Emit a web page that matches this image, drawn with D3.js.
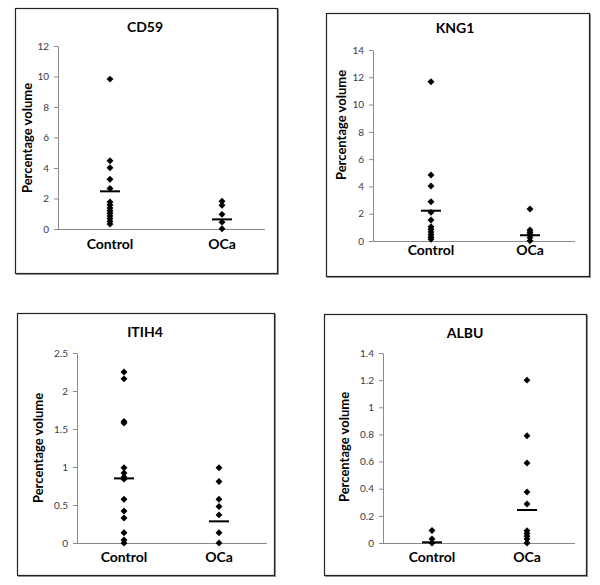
<!DOCTYPE html>
<html><head><meta charset="utf-8">
<script src="https://cdn.jsdelivr.net/npm/d3@7"></script>
<style>body{margin:0;background:#fff}svg{display:block}</style>
</head><body>
<svg id="chart" width="600" height="585"></svg>
<script>
const proteins = ["CD59", "KNG1", "ITIH4", "ALBU"];
const categories = ["Control", "OCa"];
const yMaxima = [12, 14, 2.5, 1.4];
const tickSteps = [2, 2, 0.5, 0.2];
const yAxisTitle = "Percentage volume";

const cd59Control = [9.83, 4.47, 4.02, 3.26, 2.65, 1.77, 1.57, 1.38, 1.2, 1.03, 0.85, 0.68, 0.5, 0.33];
const cd59OCa = [1.82, 1.55, 0.96, 0.45, 0.02];
const kng1Control = [11.67, 4.84, 4.03, 2.88, 2.1, 1.54, 1.05, 0.86, 0.66, 0.46, 0.27, 0.12];
const kng1OCa = [2.35, 0.8, 0.65, 0.5, 0.25, 0.02];
const itih4Control = [2.25, 2.16, 1.6, 1.58, 0.99, 0.92, 0.87, 0.84, 0.575, 0.42, 0.33, 0.136, 0.04, 0.0];
const itih4OCa = [0.99, 0.81, 0.575, 0.48, 0.37, 0.136, 0.0];
const albuControl = [0.092, 0.03, 0.0];
const albuOCa = [1.2, 0.79, 0.59, 0.376, 0.287, 0.09, 0.07, 0.05, 0.03, 0.0];

const controlMeans = [2.47, 2.22, 0.85, 0.005];
const ocaMeans = [0.63, 0.42, 0.285, 0.243];

const seriesByPanel = [
  [cd59Control, cd59OCa],
  [kng1Control, kng1OCa],
  [itih4Control, itih4OCa],
  [albuControl, albuOCa]
];

// layout (pixel geometry of each panel)
const layout = [
  {frame:[15,8,277,273], axisX:58, y0:229, yTop:46, xEnd:265, cats:[110,222], titleY:32, labelY:249, ylabX:32, ylabY:138, titleX:145},
  {frame:[326,13,589,276], axisX:373, y0:241, yTop:50, xEnd:575, cats:[431,530], titleY:33, labelY:255, ylabX:346, ylabY:125, titleX:455},
  {frame:[17,313,274,575], axisX:77, y0:543, yTop:353, xEnd:267, cats:[124,219], titleY:337, labelY:562, ylabX:43, ylabY:448, titleX:145},
  {frame:[324,314,586,575], axisX:383, y0:543, yTop:353, xEnd:575, cats:[432,527], titleY:338, labelY:562, ylabX:349, ylabY:447, titleX:465}
];

const svg = d3.select("#chart");
const font = "Lato, 'Open Sans', sans-serif";
const diamond = d3.symbol().type(d3.symbolSquare).size(24);

proteins.forEach((name, i) => {
  const L = layout[i];
  const g = svg.append("g");
  const [fx0, fy0, fx1, fy1] = L.frame;
  g.append("rect").attr("x", fx0 + 1.5).attr("y", fy0 + 1.5).attr("width", fx1 - fx0).attr("height", fy1 - fy0)
    .attr("fill", "none").attr("stroke", "#9a9a9a").attr("stroke-width", 1);
  g.append("rect").attr("x", fx0 + 0.5).attr("y", fy0 + 0.5).attr("width", fx1 - fx0).attr("height", fy1 - fy0)
    .attr("fill", "#fff").attr("stroke", "#222").attr("stroke-width", 1.2);

  const y = d3.scaleLinear().domain([0, yMaxima[i]]).range([L.y0, L.yTop]);
  const x = d3.scalePoint().domain(categories).range(L.cats);

  const ticks = d3.range(0, yMaxima[i] + tickSteps[i] / 2, tickSteps[i]).map(v => +v.toFixed(4));
  const yAxis = d3.axisLeft(y).tickValues(ticks).tickSize(4).tickSizeOuter(0).tickPadding(5)
    .tickFormat(d3.format("~g"));
  const ya = g.append("g").attr("transform", `translate(${L.axisX},0)`).call(yAxis);
  ya.select(".domain").attr("stroke", "#8a8a8a");
  ya.selectAll(".tick line").attr("stroke", "#8a8a8a");
  ya.selectAll(".tick text").attr("fill", "#3a3a4a").style("font-family", font).style("font-size", "10px");

  g.append("line").attr("x1", L.axisX).attr("x2", L.xEnd).attr("y1", L.y0 + 0.5).attr("y2", L.y0 + 0.5)
    .attr("stroke", "#8a8a8a").attr("stroke-width", 1);

  g.selectAll("text.cat").data(categories).enter().append("text")
    .attr("class", "cat").attr("x", d => x(d)).attr("y", L.labelY)
    .attr("text-anchor", "middle").style("font-family", font).style("font-weight", "bold")
    .style("font-size", "14px").text(d => d);

  g.append("text").attr("x", L.titleX).attr("y", L.titleY).attr("text-anchor", "middle")
    .style("font-family", font).style("font-weight", "bold").style("font-size", "14px").text(name);

  g.append("text").attr("transform", `translate(${L.ylabX},${L.ylabY}) rotate(-90)`)
    .attr("text-anchor", "middle").style("font-family", font).style("font-weight", "bold")
    .style("font-size", "13px").text(yAxisTitle);

  const means = [controlMeans[i], ocaMeans[i]];
  categories.forEach((cat, j) => {
    g.selectAll(null).data(seriesByPanel[i][j]).enter().append("path")
      .attr("d", diamond).attr("transform", d => `translate(${x(cat)},${y(d)}) rotate(45)`)
      .attr("fill", "#000");
    g.append("line").attr("x1", x(cat) - 10).attr("x2", x(cat) + 10)
      .attr("y1", y(means[j])).attr("y2", y(means[j]))
      .attr("stroke", "#000").attr("stroke-width", 2);
  });
});
</script>
</body></html>
